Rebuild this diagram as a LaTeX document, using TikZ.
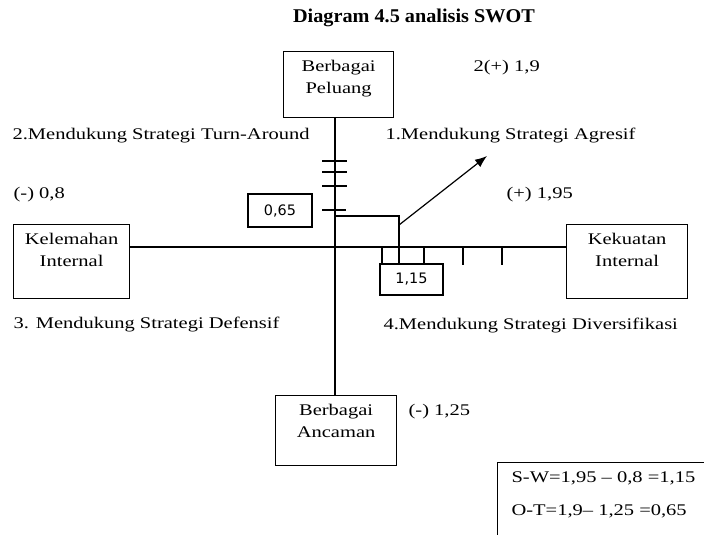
\documentclass[tikz,border=0pt]{standalone}
\usepackage{fontspec}
\setmainfont{Liberation Serif}[FakeStretch=1.26]
\newfontfamily\judulfont{Liberation Serif}[FakeStretch=1.04]
\newfontfamily\angkafont{DejaVu Sans}
\usetikzlibrary{positioning,arrows.meta}
\tikzset{
  teks/.style={anchor=base west, inner sep=0pt, font=\fontsize{12.2}{16.5}\selectfont},
  kotak/.style={draw, line width=.9pt, inner sep=0pt, anchor=north west},
  isi/.style={anchor=north, inner sep=0pt, yshift=-6.2pt, align=center, font=\fontsize{12.2}{16.5}\selectfont},
  kotakangka/.style={draw, line width=.9pt, inner sep=0pt, font=\angkafont\fontsize{10.8}{12}\selectfont}
}
\begin{document}
\begin{tikzpicture}[x=.75pt, y=-.75pt, >={Latex[length=9pt,width=7pt]}, line width=.9pt]
	\useasboundingbox (0,0) rectangle (704,535);
	\node[anchor=base, inner sep=0pt, font=\judulfont\bfseries\fontsize{14.6}{16}\selectfont] (judul) at (414,23) {Diagram 4.5 analisis SWOT};
	% kotak utama
	\node[kotak, minimum width=82.5pt, minimum height=49.5pt, label={[isi]north:Berbagai\\Peluang}] (peluang) at (283,51) {};
	\node[kotak, minimum width=87pt, minimum height=55.5pt, label={[isi]north:Kelemahan\\Internal}] (kelemahan) at (13,224) {};
	\node[kotak, minimum width=90.75pt, minimum height=55.5pt, label={[isi]north:Kekuatan\\Internal}] (kekuatan) at (566,224) {};
	\node[kotak, minimum width=90.75pt, minimum height=52.5pt, label={[isi]north:Berbagai\\Ancaman}] (ancaman) at (275,395) {};
	% sumbu
	\coordinate (o) at (335,247);
	\draw (o |- peluang.south) -- (o |- ancaman.north);
	\draw (kelemahan.east |- o) -- (kekuatan.west |- o);
	\foreach \y in {161,172,186}
		\draw (322,\y) -- (347,\y);
	\draw (322,210) -- (346,210);
	\foreach \x in {382,424,463,502}
		\draw (\x,247) -- (\x,265);
	% nilai
	\node[kotakangka, minimum width=48pt, minimum height=24.75pt] (nilaiot) at (280,210.5) {0,65};
	\node[kotakangka, minimum width=47.25pt, minimum height=23.25pt] (nilaisw) at (411.5,279.5) {1,15};
	\coordinate (siku) at (399,216);
	\draw (o |- siku) -- (siku) -- (siku |- nilaisw.north);
	\coordinate (pangkal) at (399,225);
	\coordinate (ujung) at (487,156);
	\draw[->] (pangkal) -- (ujung);
	% keterangan
	\node[teks] (skorO) at (473,72) {2(+) 1,9};
	\node[teks] (kuadran2) at (12,140) {2.Mendukung Strategi Turn-Around};
	\node[teks] (kuadran1) at (385,140) {1.Mendukung Strategi Agresif};
	\node[teks] (skorW) at (13,199) {(-) 0,8};
	\node[teks] (skorS) at (506,199) {(+) 1,95};
	\node[teks] (kuadran3) at (13,328) {3. Mendukung Strategi Defensif};
	\node[teks] (kuadran4) at (383,329) {4.Mendukung Strategi Diversifikasi};
	\node[teks] (skorT) at (408,415) {(-) 1,25};
	% rumus
	\node[kotak, minimum width=172.5pt, minimum height=67.5pt] (rumus) at (497,462) {};
	\node[teks] (rumusSW) at (511,482) {S-W=1,95 -- 0,8 =1,15};
	\node[teks] (rumusOT) at (511,515) {O-T=1,9-- 1,25 =0,65};
\end{tikzpicture}
\end{document}
